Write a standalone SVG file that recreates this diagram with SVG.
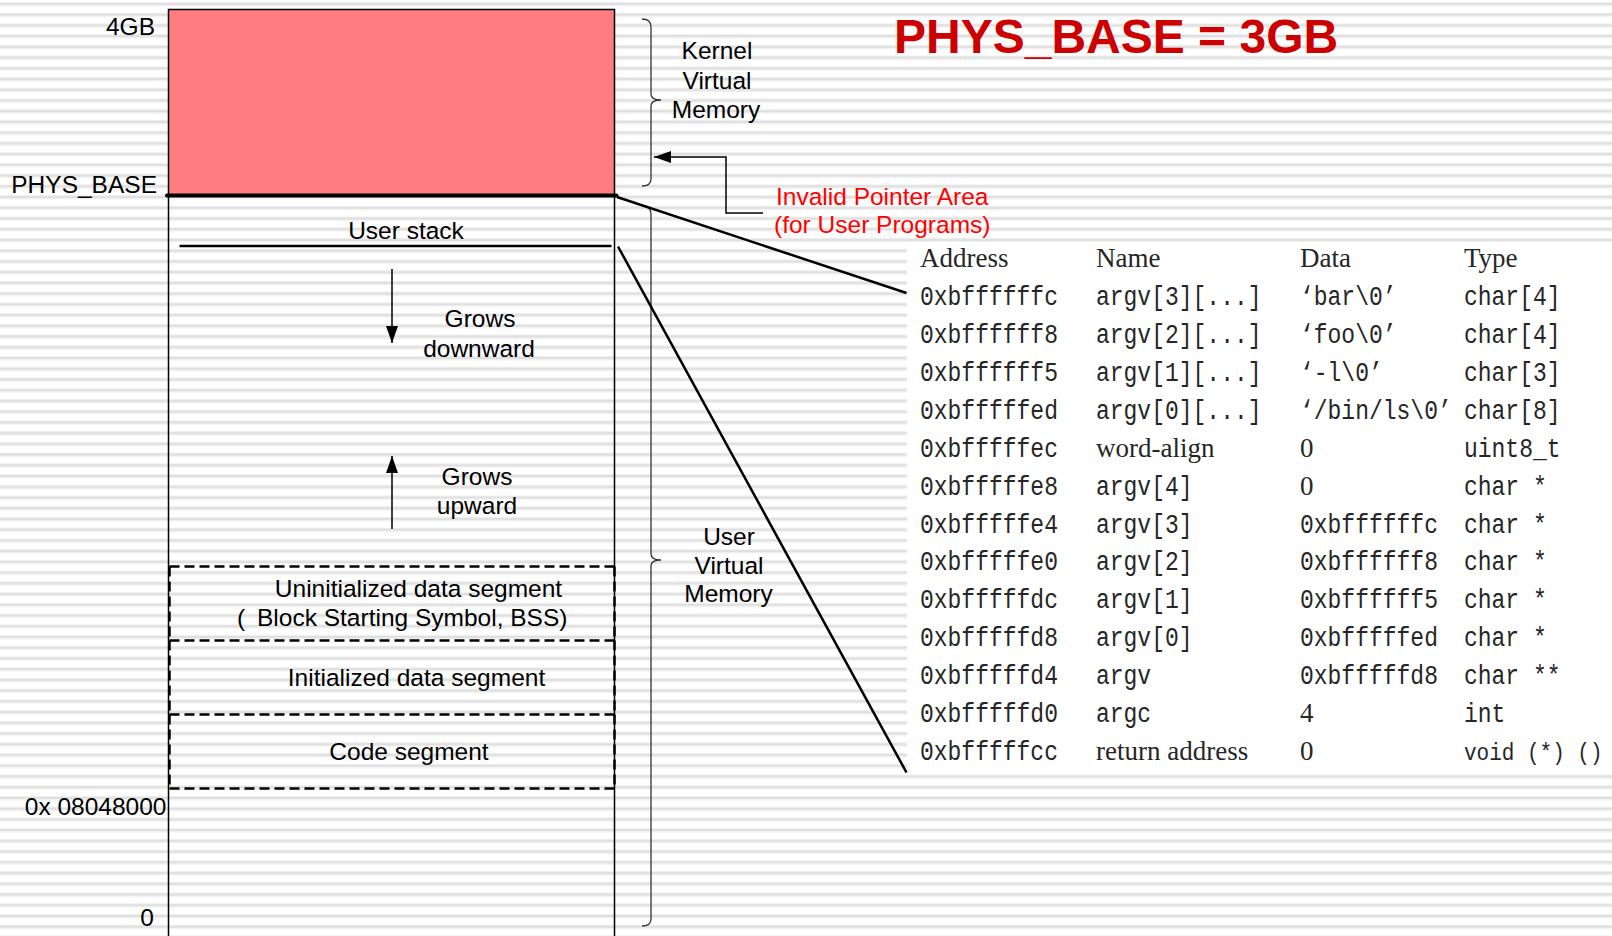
<svg xmlns="http://www.w3.org/2000/svg" width="1612" height="936" viewBox="0 0 1612 936">
  <defs>
    <!-- ruled-paper background -->
    <pattern id="rules" x="0" y="0" width="40" height="10.73" patternUnits="userSpaceOnUse">
      <rect width="40" height="10.73" fill="#ffffff"/>
      <rect y="2" width="40" height="1" fill="#eeeeee"/>
      <rect y="3" width="40" height="2.2" fill="#dfdfdf"/>
      <rect y="5.2" width="40" height="1" fill="#eeeeee"/>
    </pattern>
    <marker id="head" viewBox="0 0 17 12" refX="17" refY="6" markerWidth="17" markerHeight="12" markerUnits="userSpaceOnUse" orient="auto">
      <path d="M0,0 L17,6 L0,12 z" fill="#000"/>
    </marker>
    <style>
      .lbl { font-family: "Liberation Sans", Arial, sans-serif; font-size: 24.5px; fill: #000; }
      .mid { text-anchor: middle; }
      .end { text-anchor: end; }
      .red { fill: #ff0000; }
      .title { font-family: "Liberation Sans", Arial, sans-serif; font-size: 48px; font-weight: bold; fill: #cc0000; }
      .thin { stroke: #000; stroke-width: 1.5; fill: none; }
      .bold { stroke: #000; stroke-width: 2.5; fill: none; }
      .dash { stroke: #000; stroke-width: 2.5; fill: none; stroke-dasharray: 10 5; }
      .brace { stroke: #333; stroke-width: 1.3; fill: none; }
      .tt { font-family: "Liberation Mono", "DejaVu Sans Mono", monospace; font-size: 23px; fill: #262626; }
      .rm { font-family: "Liberation Serif", "Times New Roman", serif; font-size: 27px; fill: #262626; }
    </style>
  </defs>

  <rect width="1612" height="936" fill="url(#rules)"/>

  <!-- kernel part of the address space -->
  <g id="kernel-region">
    <rect x="168.5" y="9.5" width="446" height="186" fill="#ff7c80" stroke="#000" stroke-width="1.5"/>
  </g>

  <!-- user part: outer walls down to address 0 -->
  <g id="user-region">
    <line class="thin" x1="168.5" y1="195" x2="168.5" y2="936"/>
    <line class="thin" x1="614.5" y1="195" x2="614.5" y2="936"/>
    <line x1="167" y1="195.5" x2="616.5" y2="195.5" stroke="#000" stroke-width="4" stroke-linecap="round"/>
  </g>

  <g id="user-stack">
    <text class="lbl mid" x="406" y="239">User stack</text>
    <line class="bold" x1="179.5" y1="246" x2="611.5" y2="246"/>
  </g>

  <g id="grows-down">
    <text class="lbl mid" x="480" y="327">Grows</text>
    <text class="lbl mid" x="479" y="357">downward</text>
  </g>

  <g id="grows-up">
    <text class="lbl mid" x="477" y="485">Grows</text>
    <text class="lbl mid" x="477" y="514">upward</text>
  </g>

  <g id="bss-segment">
    <path class="dash" d="M169.5,566.5 H614.5 M169.5,566.5 V640.5 M614.5,566.5 V640.5 M169.5,640.5 H614.5"/>
    <text class="lbl mid" x="418.5" y="596.5">Uninitialized data segment</text>
    <text class="lbl" x="237" y="626">(<tspan x="257">Block Starting Symbol, BSS)</tspan></text>
  </g>

  <g id="data-segment">
    <path class="dash" d="M169.5,640.5 V714.5 M614.5,640.5 V714.5 M169.5,714.5 H614.5"/>
    <text class="lbl mid" x="416.5" y="685.5">Initialized data segment</text>
  </g>

  <g id="code-segment">
    <path class="dash" d="M169.5,714.5 V788.5 M614.5,714.5 V788.5 M169.5,788.5 H614.5"/>
    <text class="lbl mid" x="409" y="760">Code segment</text>
  </g>

  <g id="address-labels">
    <text class="lbl end" x="155" y="35">4GB</text>
    <text class="lbl end" x="157" y="192.5">PHYS_BASE</text>
    <text class="lbl end" x="166.5" y="815">0x 08048000</text>
    <text class="lbl end" x="154" y="926">0</text>
  </g>

  <g id="kernel-brace">
    <path class="brace" d="M642,19 C648,19 651,21 651,27 L651,94 C651,98 654,100 661,100 C654,100 651,102 651,106 L651,179 C651,184 648,186 642,186"/>
    <text class="lbl mid" x="717" y="59">Kernel</text>
    <text class="lbl mid" x="717" y="88.5">Virtual</text>
    <text class="lbl mid" x="716" y="118">Memory</text>
  </g>

  <g id="user-brace">
    <path class="brace" d="M642,206 C648,206 651,208 651,214 L651,554 C651,558 654,560 661,560 C654,560 651,562 651,566 L651,919 C651,924 648,926 642,926"/>
    <text class="lbl mid" x="729" y="544.5">User</text>
    <text class="lbl mid" x="729" y="573.5">Virtual</text>
    <text class="lbl mid" x="728.5" y="602">Memory</text>
  </g>

  <g id="title">
    <text class="title" x="894" y="53">PHYS_BASE = 3GB</text>
  </g>

  <g id="invalid-area">
    <text class="lbl red" x="776" y="205">Invalid Pointer Area</text>
    <text class="lbl red" x="774" y="233">(for User Programs)</text>
  </g>

  <!-- initial user stack of "/bin/ls -l foo bar" -->
  <g id="stack-table">
    <rect x="907" y="242" width="705" height="527" fill="#ffffff"/>
    <g class="rm">
      <text x="920" y="267.3">Address</text>
      <text x="1096" y="267.3">Name</text>
      <text x="1300" y="267.3">Data</text>
      <text x="1464" y="267.3">Type</text>
      <text x="1096" y="456.9">word-align</text>
      <text x="1300" y="456.9">0</text>
      <text x="1300" y="494.75">0</text>
      <text x="1300" y="721.85">4</text>
      <text x="1096" y="759.7">return address</text>
      <text x="1300" y="759.7">0</text>
    </g>
    <g class="tt" transform="scale(1,1.17)">
      <text y="261.11"><tspan x="920">0xbffffffc</tspan><tspan x="1096">argv[3][...]</tspan><tspan x="1300">‘bar\0’</tspan><tspan x="1464">char[4]</tspan></text>
      <text y="293.46"><tspan x="920">0xbffffff8</tspan><tspan x="1096">argv[2][...]</tspan><tspan x="1300">‘foo\0’</tspan><tspan x="1464">char[4]</tspan></text>
      <text y="325.81"><tspan x="920">0xbffffff5</tspan><tspan x="1096">argv[1][...]</tspan><tspan x="1300">‘-l\0’</tspan><tspan x="1464">char[3]</tspan></text>
      <text y="358.16"><tspan x="920">0xbfffffed</tspan><tspan x="1096">argv[0][...]</tspan><tspan x="1300">‘/bin/ls\0’</tspan><tspan x="1464">char[8]</tspan></text>
      <text y="390.51"><tspan x="920">0xbfffffec</tspan><tspan x="1464">uint8_t</tspan></text>
      <text y="422.86"><tspan x="920">0xbfffffe8</tspan><tspan x="1096">argv[4]</tspan><tspan x="1464">char *</tspan></text>
      <text y="455.21"><tspan x="920">0xbfffffe4</tspan><tspan x="1096">argv[3]</tspan><tspan x="1300">0xbffffffc</tspan><tspan x="1464">char *</tspan></text>
      <text y="487.56"><tspan x="920">0xbfffffe0</tspan><tspan x="1096">argv[2]</tspan><tspan x="1300">0xbffffff8</tspan><tspan x="1464">char *</tspan></text>
      <text y="519.91"><tspan x="920">0xbfffffdc</tspan><tspan x="1096">argv[1]</tspan><tspan x="1300">0xbffffff5</tspan><tspan x="1464">char *</tspan></text>
      <text y="552.26"><tspan x="920">0xbfffffd8</tspan><tspan x="1096">argv[0]</tspan><tspan x="1300">0xbfffffed</tspan><tspan x="1464">char *</tspan></text>
      <text y="584.62"><tspan x="920">0xbfffffd4</tspan><tspan x="1096">argv</tspan><tspan x="1300">0xbfffffd8</tspan><tspan x="1464">char **</tspan></text>
      <text y="616.97"><tspan x="920">0xbfffffd0</tspan><tspan x="1096">argc</tspan><tspan x="1464">int</tspan></text>
      <text y="649.32"><tspan x="920">0xbfffffcc</tspan></text>
      <text x="1464" y="649.32" style="font-size:21px">void (*) ()</text>
    </g>
  </g>

  <g id="connectors">
    <!-- stack growth directions -->
    <line class="thin" x1="392" y1="269" x2="392" y2="343" marker-end="url(#head)"/>
    <line class="thin" x1="392" y1="529" x2="392" y2="456" marker-end="url(#head)"/>
    <!-- invalid pointer area callout -->
    <path class="thin" d="M763,213 H726 V157 H654" marker-end="url(#head)"/>
    <!-- zoom lines from the stack to the table -->
    <line class="bold" x1="617" y1="197" x2="906.5" y2="293"/>
    <line class="bold" x1="618" y1="246.5" x2="906.5" y2="772.5"/>
  </g>
</svg>
